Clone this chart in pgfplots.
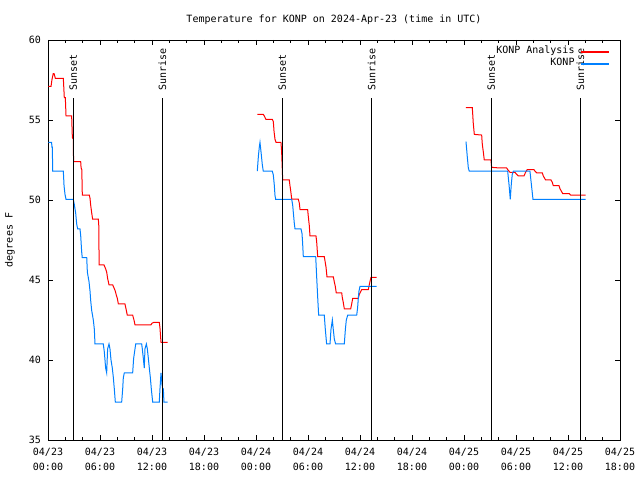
\documentclass[border=0pt]{standalone}
\usepackage{fontspec}
\setmainfont{DejaVu Sans Mono}
\usepackage{pgfplots}
\pgfplotsset{compat=1.18}
\definecolor{gblue}{RGB}{0,128,255}
\definecolor{gred}{RGB}{255,0,0}
\begin{document}
\fontsize{10bp}{12bp}\selectfont
\begin{tikzpicture}
\path[use as bounding box] (0,0) rectangle (640bp,480bp);
\begin{axis}[
  at={(48bp,40bp)}, anchor=south west,
  scale only axis, width=572bp, height=400bp,
  xmin=0, xmax=66, ymin=35, ymax=60,
  unbounded coords=jump,
  xtick={0,6,...,66},
  xticklabels={{04/23\\00:00},{04/23\\06:00},{04/23\\12:00},{04/23\\18:00},{04/24\\00:00},{04/24\\06:00},{04/24\\12:00},{04/24\\18:00},{04/25\\00:00},{04/25\\06:00},{04/25\\12:00},{04/25\\18:00}},
  minor x tick num=2,
  ytick={35,40,...,60},
  tick align=inside,
  major tick length=5bp, minor tick length=3bp,
  every tick/.style={line width=0.8bp},
  axis line style={line width=0.8bp},
  /pgf/number format/assume math mode=true,
  xticklabel style={align=center, font=\fontsize{10bp}{14.5bp}\selectfont, inner sep=0pt, yshift=-8bp},
  yticklabel style={inner sep=0pt, xshift=-7bp},
  ylabel={degrees F},
  ylabel style={at={(axis description cs:-0.0664,0.5)}, anchor=center, inner sep=0pt},
  title={Temperature for KONP on 2024-Apr-23 (time in UTC)},
  title style={at={(0.5,1)}, anchor=base, yshift=12bp, inner sep=0pt},
  legend plot pos=right,
  legend cell align=right,
  legend image post style={xscale=1.65, line width=1.4bp},
  legend style={draw=none, fill=none, at={(1,1)}, anchor=north east, xshift=-10bp, yshift=-6bp, inner sep=0pt, outer sep=0pt, row sep=0pt, column sep=6bp, nodes={inner sep=0pt, text height=8bp, text depth=4bp}},
]
% KONP Analysis
\addplot[color=gred, line width=1bp] coordinates {
(0.04,57.1) (0.35,57.1) (0.45,57.5) (0.6,57.9) (0.7,57.9) (0.85,57.6) (1.77,57.6) (1.88,56.4) (2.0,56.4) (2.08,55.25) (2.73,55.25) (2.81,53.9) (2.92,53.8) (2.95,52.4) (3.77,52.4) (3.82,52.0) (3.9,51.9) (3.96,50.3)
(4.77,50.3) (4.85,50.1) (4.92,49.7) (5.04,49.2) (5.15,48.8) (5.81,48.8) (5.86,48.4) (5.9,45.94) (6.46,45.94) (6.65,45.7) (6.77,45.5) (6.88,45.1) (7.04,44.7) (7.46,44.7) (7.62,44.5) (7.77,44.3) (7.88,44.06) (8.0,43.85) (8.12,43.5)
(8.88,43.5) (9.0,43.2) (9.15,42.8) (9.77,42.8) (9.92,42.5) (10.04,42.2) (11.88,42.2) (12.0,42.3) (12.19,42.35) (12.84,42.35) (12.92,42.0) (13.04,41.1) (13.81,41.1)
(14,nan)
(24.15,55.35) (24.84,55.35) (24.96,55.25) (25.15,55.04) (25.88,55.04) (26.0,54.9) (26.08,54.3) (26.19,53.8) (26.31,53.6) (26.88,53.6) (26.96,53.0) (27.08,51.25) (27.84,51.25) (27.92,50.9) (28.0,50.6) (28.12,50.06) (28.88,50.06) (29.0,49.8) (29.08,49.4) (29.96,49.4) (30.03,49.0) (30.15,48.4) (30.23,47.75) (30.92,47.75) (31.0,47.4) (31.12,46.46) (31.88,46.46) (31.96,46.2) (32.08,45.8) (32.19,45.2) (32.92,45.2) (33.03,44.9) (33.15,44.6) (33.26,44.2) (33.89,44.2) (33.96,43.9) (34.07,43.6) (34.19,43.2) (34.93,43.2) (35.04,43.5) (35.16,43.85) (35.80,43.85) (35.92,44.1) (36.19,44.4) (36.96,44.4) (37.07,44.7) (37.15,44.9) (37.27,45.17) (37.93,45.17)
(38,nan)
(48.23,55.77) (48.96,55.77) (49.07,54.8) (49.19,54.1) (50.04,54.06) (50.11,53.5) (50.23,53.0) (50.34,52.5) (51.11,52.5) (51.19,52.04) (52.15,52.0) (52.92,52.0) (53.11,51.85) (53.31,51.73) (53.88,51.73) (54.0,51.65) (54.27,51.5) (54.92,51.5) (55.12,51.75) (55.3,51.9) (56.07,51.9) (56.19,51.8) (56.39,51.7) (57.03,51.7) (57.15,51.5) (57.42,51.25) (58.04,51.25) (58.19,51.1) (58.3,50.9) (58.96,50.9) (59.08,50.7) (59.39,50.4) (60.15,50.4) (60.31,50.3) (62.04,50.3)
};
\addlegendentry{KONP Analysis}
% KONP observations
\addplot[color=gblue, line width=1bp] coordinates {
(0.04,53.6) (0.42,53.6) (0.45,53.3) (0.5,53.3) (0.54,51.8) (1.77,51.8) (1.85,50.9) (1.96,50.36) (2.08,50.04) (2.92,50.04) (3.04,49.7) (3.19,49.2) (3.31,48.5) (3.42,48.2) (3.69,48.2) (3.77,47.8) (3.88,46.8) (3.95,46.4) (4.47,46.4) (4.54,45.5) (4.73,44.9) (4.85,44.3) (4.92,43.75)
(5.04,43.1) (5.23,42.5) (5.35,41.9) (5.42,41.0) (6.38,41.0) (6.5,40.5) (6.65,39.5) (6.77,39.2) (6.88,40.7) (7.04,41.0) (7.15,40.7) (7.27,40.0) (7.42,39.5) (7.54,38.9) (7.65,38.2) (7.77,37.36) (8.5,37.36) (8.62,38.2) (8.69,38.9) (8.81,39.2) (9.77,39.2) (9.88,40.1) (10.04,40.7) (10.12,41.0) (10.81,41.0) (10.88,40.7) (11.0,40.1) (11.11,39.5) (11.19,40.7) (11.35,41.0) (11.46,40.7) (11.58,40.1) (11.69,39.5) (11.81,38.9) (11.92,38.2) (12.08,37.36) (12.84,37.36) (12.92,38.2) (13.04,39.2) (13.15,38.5) (13.23,38.2) (13.31,38.2) (13.38,37.36) (13.81,37.36)
(14,nan)
(24.15,51.8) (24.27,52.7) (24.38,53.3) (24.46,53.6) (24.58,53.0) (24.73,52.2) (24.84,51.8) (25.88,51.8) (26.0,51.56) (26.11,50.94) (26.19,50.3) (26.27,50.04) (28.12,50.04) (28.23,49.7) (28.31,49.2) (28.42,48.54) (28.5,48.2) (29.19,48.2) (29.31,47.9) (29.38,47.3) (29.46,46.46) (30.89,46.46) (31.0,45.2) (31.12,43.9) (31.23,42.8) (31.88,42.8) (32.0,41.9) (32.15,41.0) (32.54,41.0) (32.65,41.9) (32.81,42.5) (32.92,41.9) (33.04,41.3) (33.19,41.0) (34.19,41.0) (34.31,41.9) (34.42,42.5) (34.58,42.8) (35.62,42.8) (35.73,43.3) (35.81,43.9) (35.88,44.3) (36.0,44.6) (37.93,44.6)
(38,nan)
(48.23,53.65) (48.38,52.7) (48.5,52.0) (48.61,51.8) (53.04,51.8) (53.19,51.0) (53.34,50.04) (53.46,51.0) (53.57,51.6) (53.69,51.8) (55.61,51.8) (55.77,51.0) (55.96,50.04) (62.04,50.04)
};
\addlegendentry{KONP}
% Sunset / Sunrise markers
\addplot[black, line width=1bp, forget plot] coordinates {(2.92,35) (2.92,56.4) (2.92,nan) (13.19,35) (13.19,56.4) (13.19,nan) (27.04,35) (27.04,56.4) (27.04,nan) (37.35,35) (37.35,56.4) (37.35,nan) (51.15,35) (51.15,56.4) (51.15,nan) (61.42,35) (61.42,56.4)};
\node[rotate=90, anchor=west, inner sep=0pt] at (axis cs:2.92,56.8) {Sunset};
\node[rotate=90, anchor=west, inner sep=0pt] at (axis cs:13.19,56.8) {Sunrise};
\node[rotate=90, anchor=west, inner sep=0pt] at (axis cs:27.04,56.8) {Sunset};
\node[rotate=90, anchor=west, inner sep=0pt] at (axis cs:37.35,56.8) {Sunrise};
\node[rotate=90, anchor=west, inner sep=0pt] at (axis cs:51.15,56.8) {Sunset};
\node[rotate=90, anchor=west, inner sep=0pt] at (axis cs:61.42,56.8) {Sunrise};
\end{axis}
\end{tikzpicture}
\end{document}
